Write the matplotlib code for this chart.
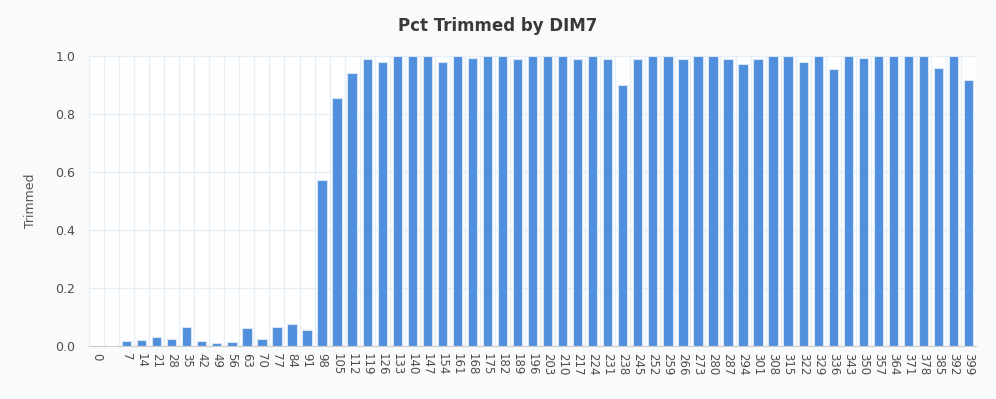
import numpy as np
import matplotlib
matplotlib.use("Agg")
import matplotlib.pyplot as plt

# categories (DIM7); the second slot is an unlabeled category in the source chart
labels = ["0", ""] + [str(7 * n) for n in range(1, 58)]

# pct trimmed (no bar for the first two slots)
values = [np.nan, np.nan,
          0.018, 0.022, 0.032, 0.025, 0.066, 0.018, 0.011, 0.015,
          0.063, 0.025, 0.066, 0.077, 0.056, 0.572, 0.855, 0.941,
          0.988, 0.981, 1.0, 1.0, 1.0, 0.978, 1.0, 0.992,
          1.0, 1.0, 0.988, 1.0, 1.0, 1.0, 0.988, 1.0,
          0.988, 0.899, 0.988, 1.0, 1.0, 0.988, 1.0, 1.0,
          0.988, 0.974, 0.988, 1.0, 1.0, 0.981, 1.0, 0.954,
          1.0, 0.992, 1.0, 1.0, 1.0, 1.0, 0.957, 1.0, 0.919]

bg = "#f9fafc"
fig = plt.figure(figsize=(9.96, 3.99), dpi=100, facecolor=bg)
ax = fig.add_axes([0.0894, 0.1328, 0.8906, 0.7268])
ax.set_facecolor("white")

x = np.arange(len(labels))
ax.bar(x, values, width=0.62, color="#4f8fdc", edgecolor="#d6e4f6",
       linewidth=0.8, zorder=3)

ax.set_xlim(-0.5, len(labels) - 0.5)
ax.set_ylim(0, 1.0)
ax.set_xticks(x)
ax.set_xticklabels(labels, rotation=-90, fontsize=8.5, color="#4d4d4d")
ax.set_xticks(np.arange(len(labels) + 1) - 0.5, minor=True)
ax.set_yticks(np.arange(0, 1.01, 0.2))
ax.set_yticklabels([f"{v:.1f}" for v in np.arange(0, 1.01, 0.2)],
                   fontsize=9, color="#4d4d4d")

ax.grid(True, which="minor", axis="x", color="#e6eef7", linewidth=1, zorder=0)
ax.grid(True, which="major", axis="y", color="#e6eef7", linewidth=1, zorder=0)
ax.tick_params(axis="both", which="both", length=0)
ax.tick_params(axis="x", pad=5)
ax.tick_params(axis="y", pad=10)

for s in ["top", "left", "right"]:
    ax.spines[s].set_visible(False)
ax.spines["bottom"].set_color("#cccccc")
ax.spines["bottom"].set_zorder(4)

ax.set_ylabel("Trimmed", fontsize=9, color="#555555", labelpad=13)
fig.text(0.5, 0.935, "Pct Trimmed by DIM7", ha="center", va="center",
         fontsize=12, fontweight="bold", color="#3a3a3a")

fig.savefig("out.png", dpi=100, facecolor=bg)
